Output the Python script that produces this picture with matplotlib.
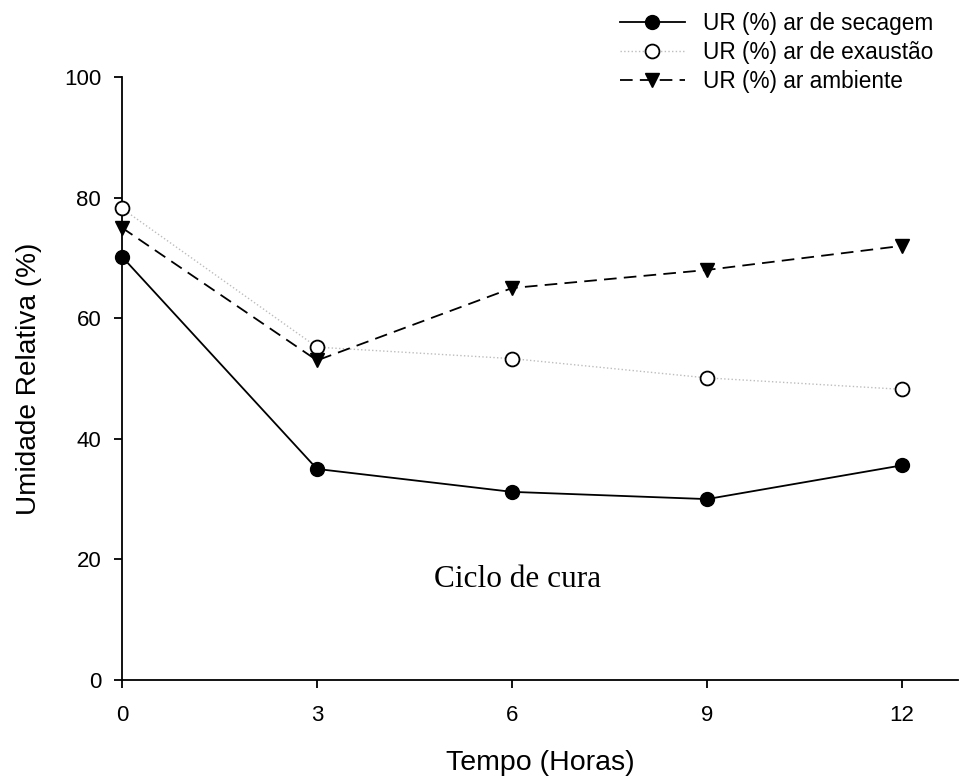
import matplotlib
matplotlib.use('Agg')
import matplotlib.pyplot as plt

# Data:
horas = [0, 3, 6, 9, 12]
ur_secagem = [70.2, 35.0, 31.2, 30.0, 35.6]
ur_exaustao = [78.2, 55.2, 53.3, 50.1, 48.2]
ur_ambiente = [75.0, 53.0, 65.0, 68.0, 72.0]

plt.rcParams['font.family'] = ['Liberation Sans', 'DejaVu Sans']

fig = plt.figure(figsize=(9.61, 7.83), dpi=100)
W, H = 961, 783
ax = fig.add_axes([122 / W, (H - 680) / H, (958 - 122) / W, (680 - 77) / H])

# Plot the three series:
ax.plot(horas, ur_secagem, color='black', lw=1.3, marker='o', ms=10,
        mfc='black', mec='black', label='UR (%) ar de secagem', zorder=3, clip_on=False)
ax.plot(horas, ur_exaustao, color='#bdbdbd', lw=1.0, ls=':', marker='o', ms=10,
        mfc='white', mec='black', mew=1.3, label='UR (%) ar de exaustão', zorder=3, clip_on=False)
ax.plot(horas, ur_ambiente, color='black', lw=1.3, ls=(0, (7, 4)), marker='v', ms=10,
        mfc='black', mec='black', label='UR (%) ar ambiente', zorder=3, clip_on=False)

# Axes styling:
ax.set_xlim(0, 12.86)
ax.set_ylim(0, 100)
ax.set_xticks([0, 3, 6, 9, 12])
ax.set_yticks([0, 20, 40, 60, 80, 100])
for side in ['top', 'right']:
    ax.spines[side].set_visible(False)
for side in ['left', 'bottom']:
    ax.spines[side].set_linewidth(1.3)
ax.tick_params(direction='out', length=6, width=1.3, labelsize=16)
ax.tick_params(axis='y', pad=9)
ax.tick_params(axis='x', pad=12)

# Axis labels:
fig.text(540 / W, 1 - 763 / H, 'Tempo (Horas)', fontsize=20.5, ha='center', va='center')
fig.text(29 / W, 1 - 379 / H, 'Umidade Relativa (%)', fontsize=20.2, ha='center',
         va='center', rotation=90)

ax.text(6.08, 16.6, 'Ciclo de cura', fontsize=22.5, family='Liberation Serif',
        ha='center', va='center')

leg = ax.legend(loc='upper left', bbox_to_anchor=(620 / W, 1 - 12 / H),
                bbox_transform=fig.transFigure, frameon=False, fontsize=16.3,
                handlelength=2.85, handletextpad=0.8, labelspacing=0.26,
                borderpad=0, borderaxespad=0)

fig.savefig('out.png', dpi=100)
